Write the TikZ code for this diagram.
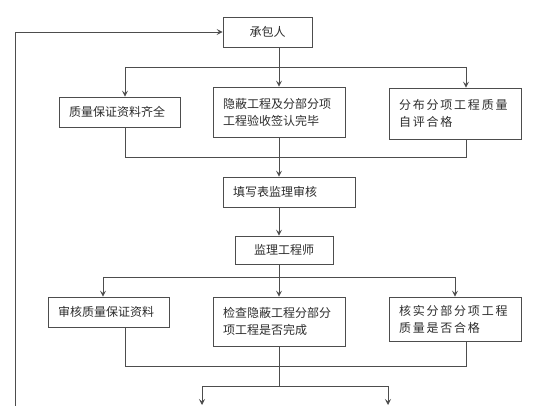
\documentclass[tikz,border=0pt]{standalone}
\usepackage{fontspec}
\usetikzlibrary{positioning, arrows.meta, calc}
\newfontfamily\cjk{Noto Sans CJK SC}
\newfontfamily\cjkwide[LetterSpace=15]{Noto Sans CJK SC}
\definecolor{linegrey}{RGB}{77,77,77}
\definecolor{textgrey}{RGB}{45,45,45}
\tikzset{
    stepbox/.style={rectangle, draw=linegrey, line width=0.8pt, fill=white, text=textgrey, font=\cjk\fontsize{12}{17}\selectfont, inner xsep=10pt, inner ysep=2pt, align=left},
    widebox/.style={stepbox, font=\cjkwide\fontsize{12}{17}\selectfont},
    arr/.style={-{Stealth[length=6pt, width=6pt, inset=2.5pt]}, line width=0.8pt, color=linegrey},
    ln/.style={line width=0.8pt, color=linegrey}
}

\begin{document}
\begin{tikzpicture}[x=1pt, y=-1pt]
        \useasboundingbox (0,0) rectangle (560,406);

        % Contractor and first row
        \node[stepbox, text width=69pt, align=center, minimum height=30pt] (contractor) at (267.5,32) {承包人};
        \node[stepbox, text width=101pt, minimum height=30pt] (docs) at (119.5,112) {质量保证资料齐全};
        \node[stepbox, text width=112pt, minimum height=50pt] (hidden) at (279,112) {隐蔽工程及分部分项\\工程验收签认完毕};
        \node[widebox, text width=112pt, minimum height=51pt] (selfcheck) at (455,113.5) {分布分项工程质量\\自评合格};

        % Form and engineer
        \node[stepbox, text width=112pt, minimum height=30pt] (form) at (289,192) {填写表监理审核};
        \node[stepbox, text width=78pt, align=center, minimum height=28pt] (engineer) at (284,250) {监理工程师};

        % Second row
        \node[stepbox, text width=101pt, minimum height=30pt] (review) at (108.5,312) {审核质量保证资料};
        \node[stepbox, text width=112pt, minimum height=49pt] (inspect) at (279,321.5) {检查隐蔽工程分部分\\项工程是否完成};
        \node[widebox, text width=112pt, minimum height=44pt] (verify) at (455,319) {核实分部分项工程\\质量是否合格};

        % Branch points
        \coordinate (split1) at (279,67);
        \coordinate (split1l) at (125,67);
        \coordinate (split1r) at (466,67);
        \coordinate (join1l) at (125,157);
        \coordinate (join1r) at (466,157);
        \coordinate (split2) at (279,277);
        \coordinate (split2l) at (103,277);
        \coordinate (split2r) at (455,277);
        \coordinate (join2l) at (125,366);
        \coordinate (join2r) at (466,366);
        \coordinate (split3) at (279,386);
        \coordinate (split3l) at (202,386);
        \coordinate (split3r) at (388,386);
        \coordinate (out1) at (202,405);
        \coordinate (out2) at (388,405);
        \coordinate (loop) at (15,406);

        % Connectors (upper part)
        \draw[ln] (contractor.south -| split1) -- (split1);
        \draw[ln] (split1l) -- (split1r);
        \draw[arr] (split1l) -- (split1l |- docs.north);
        \draw[arr] (split1) -- (hidden.north);
        \draw[arr] (split1r) -- (split1r |- selfcheck.north);
        \draw[ln] (docs.south -| join1l) -- (join1l) -- (join1r) -- (selfcheck.south -| join1r);
        \draw[arr] (hidden.south) -- (form.north -| hidden);
        \draw[arr] (form.south -| split1) -- (engineer.north -| split1);

        % Connectors (lower part)
        \draw[ln] (engineer.south -| split2) -- (split2);
        \draw[ln] (split2l) -- (split2r);
        \draw[arr] (split2l) -- (split2l |- review.north);
        \draw[arr] (split2) -- (inspect.north);
        \draw[arr] (split2r) -- (verify.north);
        \draw[ln] (review.south -| join2l) -- (join2l) -- (join2r) -- (verify.south -| join2r);
        \draw[ln] (inspect.south) -- (split3);
        \draw[ln] (split3l) -- (split3r);
        \draw[arr] (split3l) -- (out1);
        \draw[arr] (split3r) -- (out2);

        % Feedback line
        \draw[arr] (loop) |- (contractor.west);

    \end{tikzpicture}
\end{document}
